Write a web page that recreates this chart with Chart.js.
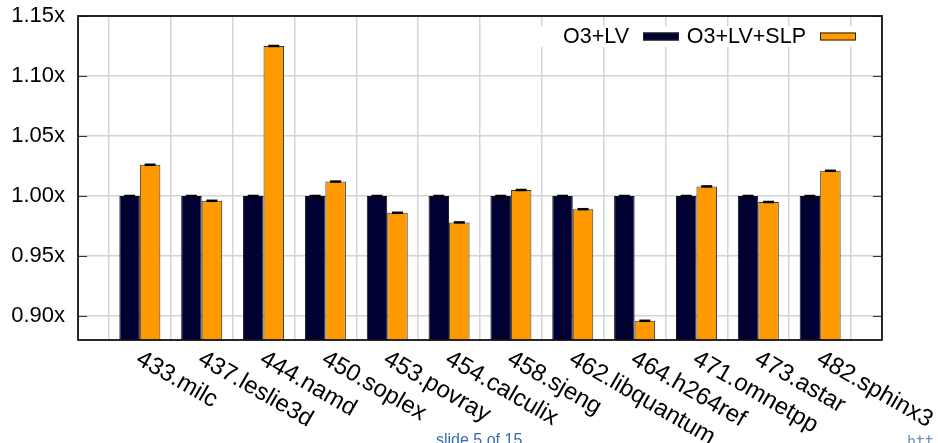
<!DOCTYPE html>
<html>
<head>
<meta charset="utf-8">
<script src="https://cdn.jsdelivr.net/npm/chart.js@4.4.1/dist/chart.umd.min.js"></script>
<style>
  html, body { margin: 0; padding: 0; background: #fff; }
  canvas { display: block; }
</style>
</head>
<body>
<canvas id="chart" width="938" height="443"></canvas>
<script>
// SPEC CPU2006 benchmarks, speedup relative to O3+LV
const benchmarks = ['433.milc', '437.leslie3d', '444.namd', '450.soplex', '453.povray', '454.calculix',
                    '458.sjeng', '462.libquantum', '464.h264ref', '471.omnetpp', '473.astar', '482.sphinx3'];
const o3lv = [1.000, 1.000, 1.000, 1.000, 1.000, 1.000, 1.000, 1.000, 1.000, 1.000, 1.000, 1.000];
const o3lvSlp = [1.026, 0.996, 1.125, 1.012, 0.986, 0.978, 1.005, 0.989, 0.896, 1.008, 0.995, 1.021];
const yTicks = [0.90, 0.95, 1.00, 1.05, 1.10, 1.15];
const seriesNames = ['O3+LV', 'O3+LV+SLP'];
const seriesColors = ['#000033', '#ff9900'];

const FONT = "'Liberation Sans', Arial, Helvetica, sans-serif";
const GRID = '#d4d4d4';
const TOP = 16;

// half-slot of empty space on each side of the benchmark groups
const labels = [''].concat(benchmarks, ['']);
const pad = arr => [null].concat(arr, [null]);

const decorations = {
  id: 'decorations',
  afterDatasetsDraw(chart) {
    const ctx = chart.ctx;
    const area = chart.chartArea;
    const xs = chart.scales.x;
    const ys = chart.scales.y;

    // error-bar caps on top of each bar
    ctx.save();
    ctx.strokeStyle = '#000';
    ctx.lineWidth = 2.5;
    chart.data.datasets.forEach((ds, di) => {
      chart.getDatasetMeta(di).data.forEach((bar, i) => {
        if (ds.data[i] == null) return;
        ctx.beginPath();
        ctx.moveTo(bar.x - 5.5, bar.y);
        ctx.lineTo(bar.x + 5.5, bar.y);
        ctx.stroke();
      });
    });
    ctx.restore();

    // inner tick marks on left and right borders
    ctx.save();
    ctx.strokeStyle = '#333';
    ctx.lineWidth = 1;
    yTicks.forEach(v => {
      const y = Math.round(ys.getPixelForValue(v)) + 0.5;
      ctx.beginPath();
      ctx.moveTo(area.left, y); ctx.lineTo(area.left + 9, y);
      ctx.moveTo(area.right - 9, y); ctx.lineTo(area.right, y);
      ctx.stroke();
    });
    ctx.restore();

    // key: label text followed by its sample
    ctx.save();
    ctx.fillStyle = '#fff';
    ctx.fillRect(538, 26, area.right - 540, 21);
    ctx.font = '21.5px ' + FONT;
    ctx.textAlign = 'right';
    ctx.textBaseline = 'middle';
    const keyY = 37;
    const textRight = [629, 806];
    const sampleLeft = [643, 820];
    seriesNames.forEach((name, k) => {
      ctx.fillStyle = '#000';
      ctx.fillText(name, textRight[k], keyY);
      ctx.fillStyle = seriesColors[k];
      ctx.fillRect(sampleLeft[k], keyY - 4.5, 36, 8);
      ctx.strokeStyle = '#222';
      ctx.lineWidth = 1;
      ctx.strokeRect(sampleLeft[k] + 0.5, keyY - 4, 35, 7);
    });
    ctx.restore();

    // plot border
    ctx.save();
    ctx.strokeStyle = '#111';
    ctx.lineWidth = 1.8;
    ctx.strokeRect(area.left, area.top, area.right - area.left, area.bottom - area.top);
    ctx.restore();

    // rotated benchmark names under each group
    ctx.save();
    ctx.fillStyle = '#000';
    ctx.font = '24px ' + FONT;
    ctx.textAlign = 'left';
    ctx.textBaseline = 'alphabetic';
    benchmarks.forEach((name, i) => {
      const x = xs.getPixelForValue(i + 1);
      ctx.save();
      ctx.translate(x - 5, area.bottom + 23);
      ctx.rotate(Math.PI / 6);
      ctx.fillText(name, 0, 0);
      ctx.restore();
    });
    ctx.restore();

    // slide footer
    ctx.save();
    ctx.textAlign = 'left';
    ctx.textBaseline = 'alphabetic';
    ctx.font = "16px " + FONT;
    ctx.fillStyle = '#3a6cb0';
    ctx.fillText('slide 5 of 15', 436, 445);
    ctx.font = "15px 'DejaVu Sans Mono', 'Liberation Mono', monospace";
    ctx.fillStyle = '#6b8cba';
    ctx.fillText('htt', 907, 447);
    ctx.restore();
  }
};

new Chart(document.getElementById('chart'), {
  type: 'bar',
  data: {
    labels: labels,
    datasets: [
      {
        label: seriesNames[0],
        data: pad(o3lv),
        backgroundColor: seriesColors[0],
        borderColor: '#111',
        borderWidth: 1
      },
      {
        label: seriesNames[1],
        data: pad(o3lvSlp),
        backgroundColor: seriesColors[1],
        borderColor: '#333',
        borderWidth: 1
      }
    ]
  },
  options: {
    responsive: false,
    animation: false,
    devicePixelRatio: 1,
    categoryPercentage: 0.663,
    barPercentage: 1.0,
    layout: { padding: { left: 0, top: 0, right: 56, bottom: 103 } },
    plugins: {
      legend: { display: false },
      tooltip: { enabled: false },
      title: { display: false }
    },
    scales: {
      x: {
        type: 'category',
        offset: false,
        grid: { offset: true, color: GRID, lineWidth: 1.5, drawTicks: false },
        border: { display: false },
        ticks: { display: false },
        afterFit: s => { s.height = 0; }
      },
      y: {
        min: 0.88,
        max: 1.15,
        afterBuildTicks: s => { s.ticks = yTicks.map(v => ({ value: v })); },
        grid: { color: GRID, lineWidth: 1.5, drawTicks: false },
        border: { display: false },
        ticks: {
          padding: 13,
          color: '#000',
          font: { size: 22, family: FONT },
          callback: v => v.toFixed(2) + 'x'
        },
        afterFit: s => { s.width = 78; s.paddingTop = TOP; }
      }
    }
  },
  plugins: [decorations]
});
</script>
</body>
</html>
